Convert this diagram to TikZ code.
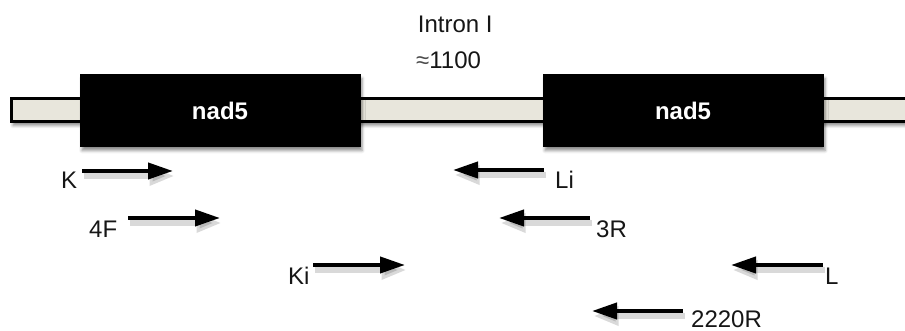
\documentclass[tikz,border=0pt]{standalone}
\usepackage{fontspec}
\setmainfont{Liberation Sans}
\usetikzlibrary{arrows.meta,shadows.blur}

\definecolor{barfill}{RGB}{232,230,220}
\definecolor{ink}{RGB}{22,22,22}

\begin{document}
\begin{tikzpicture}[x=1pt,y=-1pt,
  lbl/.style={font=\fontsize{24}{28}\selectfont, text=ink, inner sep=0pt, anchor=base west},
  genebar/.style={rectangle, fill=barfill, draw=black, line width=3pt,
    minimum width=903.5pt, minimum height=23pt, inner sep=0pt,
    blur shadow={shadow xshift=1.5pt, shadow yshift=-4pt, shadow blur radius=3pt, shadow opacity=45}},
  exon/.style={rectangle, fill=black, draw=black, line width=0.8pt,
    minimum width=280pt, minimum height=72pt, inner sep=0pt,
    text=white, font=\fontsize{24}{28}\selectfont\bfseries,
    blur shadow={shadow xshift=2pt, shadow yshift=-4pt, shadow blur radius=3pt, shadow opacity=45}},
  primer/.style={draw=black, line width=4pt, -{Triangle[length=25pt,width=16pt]}},
  primershadow/.style={draw=black, line width=6pt, opacity=0.15,
    -{Triangle[length=25pt,width=18pt]},
    transform canvas={xshift=1.5pt,yshift=-5pt}},
]
\useasboundingbox (0,0) rectangle (905,331);

% genomic segment with the two exons
\node[genebar] (bar) at (463.25,110) {};
\node[exon] (exonA) at (220,110.5) {nad5};
\node[exon] (exonB) at (683,110.5) {nad5};

% intron caption
\node[lbl] (intron) at (417.7,33) {Intron I};
\node[lbl] (size) at (416,69) {{\color{black!70}≈}1100};

% primer positions
\coordinate (kS) at (82,171);   \coordinate (kE) at (173,171);
\coordinate (fS) at (128,218);  \coordinate (fE) at (220,218);
\coordinate (kiS) at (313,265); \coordinate (kiE) at (405,265);
\coordinate (liS) at (544,170); \coordinate (liE) at (453,170);
\coordinate (rS) at (590,218);  \coordinate (rE) at (499,218);
\coordinate (lS) at (823,265);  \coordinate (lE) at (731,265);
\coordinate (tS) at (683,311);  \coordinate (tE) at (592,311);

% soft shadows under the primer arrows
\draw[primershadow] (kS) -- (kE);
\draw[primershadow] (fS) -- (fE);
\draw[primershadow] (kiS) -- (kiE);
\draw[primershadow] (liS) -- (liE);
\draw[primershadow] (rS) -- (rE);
\draw[primershadow] (lS) -- (lE);
\draw[primershadow] (tS) -- (tE);

% primer arrows
\draw[primer] (kS) -- (kE);
\draw[primer] (fS) -- (fE);
\draw[primer] (kiS) -- (kiE);
\draw[primer] (liS) -- (liE);
\draw[primer] (rS) -- (rE);
\draw[primer] (lS) -- (lE);
\draw[primer] (tS) -- (tE);

% primer names
\node[lbl] (kLab) at (61,189) {K};
\node[lbl] (fLab) at (89,237) {4F};
\node[lbl] (kiLab) at (288,284) {Ki};
\node[lbl] (liLab) at (555,189) {Li};
\node[lbl] (rLab) at (596,237) {3R};
\node[lbl] (lLab) at (825,284) {L};
\node[lbl] (tLab) at (691,327.5) {2220R};
\end{tikzpicture}
\end{document}
